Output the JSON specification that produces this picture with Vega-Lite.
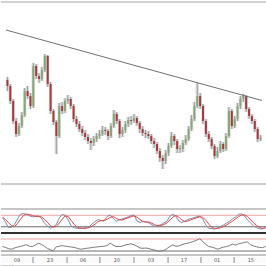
{
"$schema": "https://vega.github.io/schema/vega-lite/v6.json",
"padding": 0,
"spacing": 0,
"background": "white",
"config": {"view": {"stroke": null}, "axis": {"disable": true}, "concat": {"spacing": 0}},
"resolve": {"scale": {"x": "independent", "y": "independent"}},
"datasets": {
"candles": [
{"i":0,"o":130,"c":124,"h":133,"l":119},{"i":1,"o":124,"c":109,"h":126,"l":106},{"i":2,"o":109,"c":89,"h":111,"l":86},{"i":3,"o":89,"c":76,"h":92,"l":73},{"i":4,"o":76,"c":84,"h":87,"l":74},{"i":5,"o":84,"c":95,"h":98,"l":82},{"i":6,"o":95,"c":119,"h":122,"l":93},{"i":7,"o":119,"c":114,"h":124,"l":111},{"i":8,"o":114,"c":104,"h":117,"l":101},{"i":9,"o":104,"c":144,"h":147,"l":102},
{"i":10,"o":144,"c":134,"h":146,"l":131},{"i":11,"o":134,"c":131,"h":137,"l":127},{"i":12,"o":131,"c":140,"h":143,"l":129},{"i":13,"o":140,"c":154,"h":156,"l":138},{"i":14,"o":154,"c":126,"h":155,"l":123},{"i":15,"o":126,"c":99,"h":128,"l":96},{"i":16,"o":99,"c":88,"h":101,"l":85},{"i":17,"o":88,"c":74,"h":90,"l":56},{"i":18,"o":74,"c":104,"h":107,"l":72},{"i":19,"o":104,"c":99,"h":108,"l":96},
{"i":20,"o":99,"c":109,"h":112,"l":97},{"i":21,"o":109,"c":111,"h":115,"l":106},{"i":22,"o":111,"c":104,"h":113,"l":101},{"i":23,"o":104,"c":91,"h":106,"l":88},{"i":24,"o":91,"c":86,"h":94,"l":83},{"i":25,"o":86,"c":81,"h":89,"l":78},{"i":26,"o":81,"c":77,"h":84,"l":74},{"i":27,"o":77,"c":73,"h":80,"l":70},{"i":28,"o":73,"c":69,"h":76,"l":66},{"i":29,"o":69,"c":67,"h":72,"l":60},
{"i":30,"o":67,"c":71,"h":74,"l":64},{"i":31,"o":71,"c":74,"h":77,"l":68},{"i":32,"o":74,"c":76,"h":80,"l":71},{"i":33,"o":76,"c":80,"h":84,"l":74},{"i":34,"o":80,"c":79,"h":83,"l":75},{"i":35,"o":79,"c":74,"h":81,"l":70},{"i":36,"o":74,"c":84,"h":87,"l":72},{"i":37,"o":84,"c":96,"h":100,"l":82},{"i":38,"o":96,"c":89,"h":98,"l":86},{"i":39,"o":89,"c":76,"h":91,"l":72},
{"i":40,"o":76,"c":80,"h":83,"l":73},{"i":41,"o":80,"c":86,"h":89,"l":77},{"i":42,"o":86,"c":90,"h":93,"l":83},{"i":43,"o":90,"c":89,"h":94,"l":85},{"i":44,"o":89,"c":92,"h":96,"l":87},{"i":45,"o":92,"c":87,"h":94,"l":84},{"i":46,"o":87,"c":81,"h":89,"l":77},{"i":47,"o":81,"c":77,"h":84,"l":74},{"i":48,"o":77,"c":76,"h":80,"l":72},{"i":49,"o":76,"c":74,"h":79,"l":71},
{"i":50,"o":74,"c":69,"h":76,"l":66},{"i":51,"o":69,"c":66,"h":72,"l":62},{"i":52,"o":66,"c":59,"h":68,"l":56},{"i":53,"o":59,"c":52,"h":62,"l":48},{"i":54,"o":52,"c":49,"h":55,"l":41},{"i":55,"o":49,"c":57,"h":60,"l":46},{"i":56,"o":57,"c":64,"h":67,"l":54},{"i":57,"o":64,"c":74,"h":78,"l":62},{"i":58,"o":74,"c":69,"h":76,"l":65},{"i":59,"o":69,"c":61,"h":71,"l":57},
{"i":60,"o":61,"c":62,"h":65,"l":57},{"i":61,"o":61,"c":67,"h":70,"l":58},{"i":62,"o":67,"c":71,"h":75,"l":65},{"i":63,"o":71,"c":81,"h":84,"l":69},{"i":64,"o":81,"c":91,"h":95,"l":79},{"i":65,"o":91,"c":104,"h":108,"l":89},{"i":66,"o":104,"c":114,"h":127,"l":102},{"i":67,"o":114,"c":104,"h":117,"l":101},{"i":68,"o":104,"c":89,"h":106,"l":86},{"i":69,"o":89,"c":76,"h":91,"l":73},
{"i":70,"o":76,"c":71,"h":79,"l":68},{"i":71,"o":71,"c":64,"h":73,"l":61},{"i":72,"o":64,"c":54,"h":66,"l":51},{"i":73,"o":54,"c":59,"h":63,"l":52},{"i":74,"o":59,"c":66,"h":69,"l":57},{"i":75,"o":66,"c":61,"h":68,"l":58},{"i":76,"o":61,"c":74,"h":77,"l":59},{"i":77,"o":74,"c":99,"h":103,"l":72},{"i":78,"o":99,"c":84,"h":101,"l":81},{"i":79,"o":84,"c":91,"h":94,"l":82},
{"i":80,"o":91,"c":104,"h":107,"l":89},{"i":81,"o":104,"c":111,"h":114,"l":101},{"i":82,"o":111,"c":114,"h":116,"l":108},{"i":83,"o":114,"c":101,"h":115,"l":98},{"i":84,"o":101,"c":94,"h":103,"l":91},{"i":85,"o":94,"c":89,"h":96,"l":86},{"i":86,"o":89,"c":81,"h":91,"l":78},{"i":87,"o":81,"c":71,"h":83,"l":68},{"i":88,"o":71,"c":72,"h":75,"l":69}
],
"trend": [{"i":-0.5,"p":180},{"i":88.5,"p":109.5}],
"ind": [
{"i":0,"k":67,"d":70,"r":45},{"i":1,"k":45,"d":58,"r":42},{"i":2,"k":15,"d":42,"r":38},{"i":3,"k":18,"d":26,"r":36},{"i":4,"k":31,"d":21,"r":40},{"i":5,"k":60,"d":36,"r":43},{"i":6,"k":85,"d":59,"r":45},{"i":7,"k":89,"d":78,"r":48},{"i":8,"k":85,"d":86,"r":51},{"i":9,"k":78,"d":84,"r":46},
{"i":10,"k":72,"d":78,"r":45},{"i":11,"k":74,"d":75,"r":50},{"i":12,"k":76,"d":74,"r":56},{"i":13,"k":65,"d":72,"r":52},{"i":14,"k":40,"d":60,"r":46},{"i":15,"k":25,"d":43,"r":39},{"i":16,"k":12,"d":26,"r":34},{"i":17,"k":20,"d":19,"r":31},{"i":18,"k":31,"d":21,"r":44},{"i":19,"k":65,"d":39,"r":46},
{"i":20,"k":85,"d":60,"r":48},{"i":21,"k":80,"d":77,"r":46},{"i":22,"k":55,"d":73,"r":45},{"i":23,"k":25,"d":53,"r":43},{"i":24,"k":15,"d":32,"r":42},{"i":25,"k":12,"d":17,"r":39},{"i":26,"k":12,"d":13,"r":36},{"i":27,"k":13,"d":12,"r":37},{"i":28,"k":15,"d":13,"r":39},{"i":29,"k":20,"d":16,"r":40},
{"i":30,"k":35,"d":23,"r":42},{"i":31,"k":48,"d":34,"r":43},{"i":32,"k":58,"d":47,"r":44},{"i":33,"k":52,"d":53,"r":45},{"i":34,"k":50,"d":53,"r":46},{"i":35,"k":74,"d":59,"r":48},{"i":36,"k":81,"d":68,"r":56},{"i":37,"k":65,"d":73,"r":50},{"i":38,"k":49,"d":65,"r":45},{"i":39,"k":56,"d":57,"r":45},
{"i":40,"k":60,"d":55,"r":46},{"i":41,"k":66,"d":61,"r":50},{"i":42,"k":71,"d":66,"r":52},{"i":43,"k":78,"d":72,"r":54},{"i":44,"k":81,"d":77,"r":51},{"i":45,"k":50,"d":70,"r":46},{"i":46,"k":42,"d":58,"r":40},{"i":47,"k":49,"d":47,"r":39},{"i":48,"k":45,"d":45,"r":40},{"i":49,"k":40,"d":45,"r":38},
{"i":50,"k":30,"d":38,"r":35},{"i":51,"k":21,"d":30,"r":33},{"i":52,"k":25,"d":25,"r":29},{"i":53,"k":31,"d":26,"r":30},{"i":54,"k":40,"d":32,"r":32},{"i":55,"k":49,"d":40,"r":38},{"i":56,"k":75,"d":55,"r":45},{"i":57,"k":85,"d":70,"r":50},{"i":58,"k":76,"d":79,"r":46},{"i":59,"k":50,"d":70,"r":47},
{"i":60,"k":42,"d":56,"r":51},{"i":61,"k":49,"d":47,"r":54},{"i":62,"k":58,"d":50,"r":56},{"i":63,"k":62,"d":56,"r":59},{"i":64,"k":67,"d":62,"r":62},{"i":65,"k":72,"d":67,"r":66},{"i":66,"k":76,"d":72,"r":71},{"i":67,"k":60,"d":69,"r":62},{"i":68,"k":30,"d":55,"r":52},{"i":69,"k":12,"d":34,"r":45},
{"i":70,"k":10,"d":17,"r":43},{"i":71,"k":9,"d":10,"r":40},{"i":72,"k":15,"d":11,"r":36},{"i":73,"k":21,"d":15,"r":40},{"i":74,"k":30,"d":22,"r":43},{"i":75,"k":40,"d":30,"r":45},{"i":76,"k":49,"d":40,"r":48},{"i":77,"k":62,"d":50,"r":53},{"i":78,"k":71,"d":61,"r":50},{"i":79,"k":85,"d":73,"r":54},
{"i":80,"k":87,"d":81,"r":56},{"i":81,"k":76,"d":83,"r":59},{"i":82,"k":55,"d":73,"r":60},{"i":83,"k":40,"d":57,"r":51},{"i":84,"k":25,"d":40,"r":47},{"i":85,"k":15,"d":27,"r":44},{"i":86,"k":10,"d":17,"r":42},{"i":87,"k":9,"d":11,"r":41},{"i":88,"k":20,"d":13,"r":45}
],
"cells": [
{"t":4.85,"lab":"09"},{"t":15.9,"lab":"23"},{"t":26.9,"lab":"06"},{"t":38.3,"lab":"20"},{"t":49.7,"lab":"03"},{"t":60.7,"lab":"17"},{"t":71.8,"lab":"01"},{"t":83.1,"lab":"15"}
],
"seps": [{"t":10.2},{"t":21.6},{"t":32.6},{"t":44.0},{"t":55.4},{"t":66.4},{"t":77.5}]
},
"vconcat": [
{
"width": 266, "height": 2,
"view": {"fill": "#d2d2d2", "stroke": null},
"data": {"values": [{"a": 1}]},
"mark": {"type": "rule", "opacity": 0},
"encoding": {}
},
{
"width": 266, "height": 205,
"layer": [
{
"data": {"values": [{"lv": 26}]},
"mark": {"type": "rule", "color": "#9a9a9a", "strokeWidth": 1},
"encoding": {"y": {"field": "lv", "type": "quantitative", "scale": {"domain": [2, 207], "nice": false, "zero": false}}}
},
{
"data": {"name": "candles"},
"mark": {"type": "rule", "color": "#d4d4d4", "strokeWidth": 3.5, "opacity": 0.8},
"encoding": {
"x": {"field": "i", "type": "quantitative", "scale": {"domain": [-0.5, 88.5], "nice": false, "zero": false}},
"y": {"field": "h", "type": "quantitative"},
"y2": {"field": "l"}
}
},
{
"data": {"name": "candles"},
"mark": {"type": "rule", "color": "#9c9c9c", "strokeWidth": 1},
"encoding": {
"x": {"field": "i", "type": "quantitative"},
"y": {"field": "h", "type": "quantitative"},
"y2": {"field": "l"}
}
},
{
"data": {"name": "candles"},
"mark": {"type": "bar", "size": 2},
"encoding": {
"x": {"field": "i", "type": "quantitative"},
"y": {"field": "o", "type": "quantitative"},
"y2": {"field": "c"},
"color": {"condition": {"test": "datum.c >= datum.o", "value": "#86a878"}, "value": "#a53a3e"}
}
},
{
"data": {"name": "trend"},
"mark": {"type": "line", "color": "#707070", "strokeWidth": 1},
"encoding": {
"x": {"field": "i", "type": "quantitative"},
"y": {"field": "p", "type": "quantitative"}
}
}
]
},
{
"width": 266, "height": 23,
"data": {"name": "ind"},
"layer": [
{
"data": {"values": [{"lv": 112.7, "c": "top"}, {"lv": 80, "c": "hi"}, {"lv": 20, "c": "lo"}]},
"mark": {"type": "rule", "strokeWidth": 1},
"encoding": {
"y": {"field": "lv", "type": "quantitative", "scale": {"domain": [-7.3, 112.7], "nice": false, "zero": false}},
"color": {"field": "c", "type": "nominal", "scale": {"domain": ["top", "hi", "lo"], "range": ["#8c8c8c", "#f2a0a0", "#6e6e6e"]}, "legend": null}
}
},
{
"mark": {"type": "line", "color": "#7b8ba8", "strokeWidth": 1},
"encoding": {
"x": {"field": "i", "type": "quantitative", "scale": {"domain": [-0.5, 88.5], "nice": false, "zero": false}},
"y": {"field": "k", "type": "quantitative"}
}
},
{
"mark": {"type": "line", "color": "#e04848", "strokeWidth": 1},
"encoding": {
"x": {"field": "i", "type": "quantitative"},
"y": {"field": "d", "type": "quantitative"}
}
}
]
},
{
"width": 266, "height": 22,
"data": {"name": "ind"},
"layer": [
{
"data": {"values": [{"lv": 70, "c": "hi"}, {"lv": 30, "c": "lo"}, {"lv": 16.7, "c": "bot"}]},
"mark": {"type": "rule", "strokeWidth": 1},
"encoding": {
"y": {"field": "lv", "type": "quantitative", "scale": {"domain": [16.7, 90], "nice": false, "zero": false}},
"color": {"field": "c", "type": "nominal", "scale": {"domain": ["hi", "lo", "bot"], "range": ["#f2a0a0", "#b8dcb8", "#8c8c8c"]}, "legend": null}
}
},
{
"data": {"values": [{"lv": 90}]},
"mark": {"type": "rule", "strokeWidth": 2, "color": "#303030"},
"encoding": {"y": {"field": "lv", "type": "quantitative"}}
},
{
"mark": {"type": "line", "color": "#7a7a7a", "strokeWidth": 1},
"encoding": {
"x": {"field": "i", "type": "quantitative", "scale": {"domain": [-0.5, 88.5], "nice": false, "zero": false}},
"y": {"field": "r", "type": "quantitative"}
}
}
]
},
{
"width": 266, "height": 6,
"view": {"fill": "#fafafa", "stroke": null},
"layer": [
{
"data": {"name": "seps"},
"mark": {"type": "rule", "color": "#8a8a8a", "strokeWidth": 1},
"encoding": {"x": {"field": "t", "type": "quantitative", "scale": {"domain": [-0.5, 88.5], "nice": false, "zero": false}}}
},
{
"data": {"name": "cells"},
"mark": {"type": "text", "fontSize": 5, "font": "DejaVu Sans", "color": "#555555", "baseline": "middle"},
"encoding": {"x": {"field": "t", "type": "quantitative"}, "text": {"field": "lab"}}
}
]
},
{
"width": 266, "height": 6,
"view": {"fill": "#d8d8d8", "stroke": null},
"data": {"values": [{"t": -0.5, "lab": "2013"}]},
"mark": {"type": "text", "fontSize": 4.5, "font": "DejaVu Sans", "color": "#555555", "align": "left", "baseline": "middle", "dx": 2, "dy": -0.5},
"encoding": {"x": {"field": "t", "type": "quantitative", "scale": {"domain": [-0.5, 88.5], "nice": false, "zero": false}}, "text": {"field": "lab"}}
}
]
}
